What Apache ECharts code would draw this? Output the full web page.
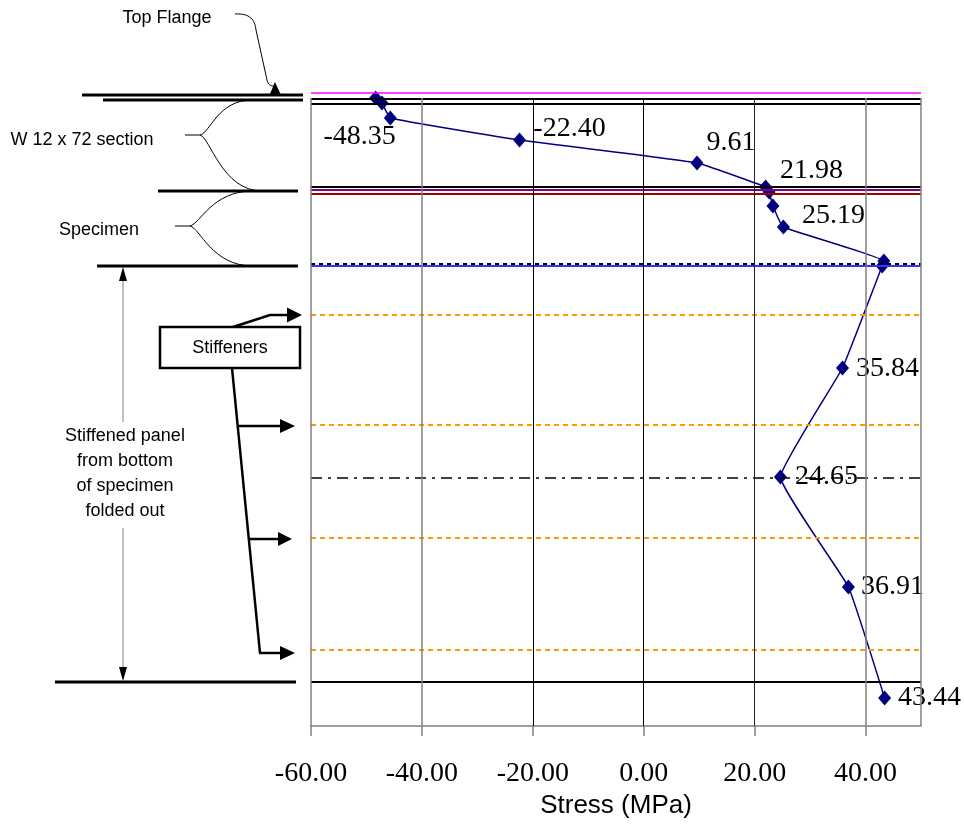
<!DOCTYPE html>
<html>
<head>
<meta charset="utf-8">
<script src="https://cdn.jsdelivr.net/npm/echarts@6/dist/echarts.min.js"></script>
<style>
  html, body { margin: 0; padding: 0; background: #fff; }
  #chart { width: 964px; height: 824px; }
</style>
</head>
<body>
<div id="chart"></div>
<script>
// Measured stress at each gauge, and the gauge's depth down the section
// (top flange at 0, increasing downwards through the web, the specimen
// and the folded-out stiffened panel).
const stressMPa = [-48.35, -47.2, -45.7, -22.40, 9.61, 21.98, 22.6, 23.3, 25.19, 43.3, 43.0, 35.84, 24.65, 36.91, 43.44];
const depth     = [0, 5, 20, 42, 65, 89, 94, 108, 129, 163, 168, 270, 379, 489, 600];
// Gauges whose reading is printed next to the marker
const labelledGauges = [0, 3, 4, 5, 8, 11, 12, 13, 14];

// Depth of the reference levels drawn across the plot
const topEdgeLevel     = -5.5;
const flangeLevels     = [1, 6];
const sectionBaseLevel = 88.7;
const webWeldLevel     = 92;
const specimenTopLevel = 95.3;
const specimenBaseDash = 165.3;
const specimenBaseLine = 167.3;
const stiffenerLevels  = [217, 327, 440, 552];
const panelMidLevel    = 379.5;
const panelBaseLevel   = 584;

// Stress axis
const xTicks = [-60, -40, -20, 0, 20, 40];
const xMin = -60, xMax = 50;
const depthMin = -6, depthMax = 628;

// Label placement (pixel offsets from the marker centre)
const labelOffsets = {
  0: [-16, 39], 3: [50, -11], 4: [34, -20], 5: [46, -16], 8: [50, -11],
  11: [45, 1], 12: [46, 0], 13: [44, 0], 14: [45, 0]
};

const serif = '"Liberation Serif", "Times New Roman", serif';
const sans = '"Liberation Sans", Arial, sans-serif';

const points = stressMPa.map((s, i) => {
  const item = { value: [s, depth[i]] };
  if (labelledGauges.includes(i)) {
    item.label = { show: true, offset: labelOffsets[i] };
  }
  return item;
});

// Horizontal reference levels
function level(y, color, width, type) {
  return { yAxis: y, lineStyle: { color: color, width: width, type: type || 'solid' } };
}
const levelLines = [
  level(topEdgeLevel, '#FF00FF', 1.5),
  level(flangeLevels[0], '#000', 2),
  level(flangeLevels[1], '#000', 2),
  level(sectionBaseLevel, '#000', 2),
  level(webWeldLevel, '#800080', 2),
  level(specimenTopLevel, '#A00000', 2),
  level(specimenBaseDash, '#000', 2, [4, 4]),
  level(specimenBaseLine, '#3333FF', 2),
  level(panelMidLevel, '#000', 1.5, [11, 6, 3, 6]),
  level(panelBaseLevel, '#000', 2)
].concat(stiffenerLevels.map(y => level(y, '#FF9900', 2, [5, 4])));

// Vertical grid lines (plot frame plus one per tick)
const gridStyles = { '-60': ['#808080', 1.5], '-40': ['#808080', 1.5], '-20': ['#000', 1], '0': ['#000', 1], '20': ['#222', 1], '40': ['#808080', 1.5], '50': ['#808080', 1.5] };
const gridLines = xTicks.concat([xMax]).map(x => [
  { coord: [x, 0], lineStyle: { color: gridStyles[String(x)][0], width: gridStyles[String(x)][1], type: 'solid' } },
  { coord: [x, depthMax] }
]);

// Left-hand sketch of the specimen
function seg(x1, y1, x2, y2, w, color) {
  return { type: 'line', silent: true, shape: { x1, y1, x2, y2 }, style: { stroke: color || '#000', lineWidth: w || 1 } };
}
function poly(points, w) {
  return { type: 'polyline', silent: true, shape: { points }, style: { stroke: '#000', lineWidth: w || 1, fill: 'none' } };
}
function tri(points) {
  return { type: 'polygon', silent: true, shape: { points }, style: { fill: '#000', stroke: 'none' } };
}
function curve(x1, y1, cpx1, cpy1, cpx2, cpy2, x2, y2) {
  return { type: 'bezierCurve', silent: true, shape: { x1, y1, cpx1, cpy1, cpx2, cpy2, x2, y2 }, style: { stroke: '#000', lineWidth: 1, fill: 'none' } };
}
function note(text, x, y) {
  return { type: 'text', silent: true, x, y, style: { text, fontFamily: sans, fontSize: 18, fill: '#000', align: 'center', verticalAlign: 'middle', lineHeight: 25 } };
}

const sketch = [
  // top flange
  note('Top Flange', 167, 18),
  curve(235, 14, 250, 13, 255, 20, 256, 30),
  seg(256, 30, 267, 80),
  curve(267, 80, 268, 85, 271, 86, 274, 86),
  tri([[275, 82], [269.5, 95], [281, 95]]),
  seg(82, 95, 303, 95, 3),
  seg(103, 100, 303, 100, 3),
  // W section brace
  note('W 12 x 72 section', 82, 140),
  seg(185, 135, 200, 135),
  curve(200, 135, 210, 133, 218, 100, 252, 100),
  curve(200, 135, 210, 137, 222, 191, 262, 191),
  seg(158, 191, 298, 191, 3),
  // specimen brace
  note('Specimen', 99, 230),
  seg(175, 226, 190, 226),
  curve(190, 226, 200, 224, 212, 191, 253, 191),
  curve(190, 226, 200, 228, 212, 266, 253, 266),
  seg(97, 266, 298, 266, 3),
  // stiffened panel extent
  seg(123, 280, 123, 422, 1, '#808080'),
  seg(123, 528, 123, 667, 1, '#808080'),
  tri([[123, 267], [119, 281], [127, 281]]),
  tri([[123, 681], [119, 667], [127, 667]]),
  note('Stiffened panel\nfrom bottom\nof specimen\nfolded out', 125, 474),
  seg(55, 682, 296, 682, 3),
  // stiffener callout
  poly([[233, 327], [270, 315], [288, 315]], 2.5),
  tri([[302, 315], [287, 307.5], [287, 322.5]]),
  seg(232, 368, 260, 653, 2.5),
  seg(238, 426, 281, 426, 2.5),
  tri([[295, 426], [280, 419], [280, 433]]),
  seg(249, 539, 279, 539, 2.5),
  tri([[292, 539], [278, 532], [278, 546]]),
  seg(259, 653, 281, 653, 2.5),
  tri([[295, 653], [280, 646], [280, 660]]),
  { type: 'rect', silent: true, shape: { x: 160, y: 327, width: 140, height: 41 }, style: { fill: '#fff', stroke: '#000', lineWidth: 2.5 } },
  note('Stiffeners', 230, 348)
];

const chart = echarts.init(document.getElementById('chart'), null, { renderer: 'canvas' });
chart.setOption({
  animation: false,
  backgroundColor: '#fff',
  grid: { left: 311, right: 43, top: 92, bottom: 98, containLabel: false },
  xAxis: {
    type: 'value',
    min: xMin,
    max: xMax,
    interval: 20,
    name: 'Stress (MPa)',
    nameLocation: 'middle',
    nameGap: 67,
    nameTextStyle: { fontFamily: sans, fontSize: 26, color: '#000' },
    axisLine: { show: true, onZero: false, lineStyle: { color: '#808080', width: 1.5 } },
    axisTick: { show: true, length: 10, customValues: xTicks, lineStyle: { color: '#808080', width: 1.5 } },
    axisLabel: {
      customValues: xTicks,
      margin: 34,
      fontFamily: serif,
      fontSize: 28,
      color: '#000',
      formatter: v => v.toFixed(2)
    },
    splitLine: { show: false }
  },
  yAxis: {
    type: 'value',
    inverse: true,
    min: depthMin,
    max: depthMax,
    show: false
  },
  graphic: sketch,
  series: [
    {
      name: 'levels',
      type: 'line',
      data: [],
      z: 1,
      silent: true,
      markLine: {
        silent: true,
        symbol: ['none', 'none'],
        label: { show: false },
        animation: false,
        data: levelLines.concat(gridLines)
      }
    },
    {
      name: 'Stress',
      type: 'line',
      z: 3,
      data: points,
      smooth: 0.1,
      symbol: 'diamond',
      symbolSize: [13, 15],
      lineStyle: { color: '#000080', width: 1.5 },
      itemStyle: { color: '#000080' },
      label: {
        show: false,
        position: 'inside',
        fontFamily: serif,
        fontSize: 28,
        color: '#000',
        formatter: p => p.value[0].toFixed(2)
      }
    }
  ]
});
</script>
</body>
</html>
